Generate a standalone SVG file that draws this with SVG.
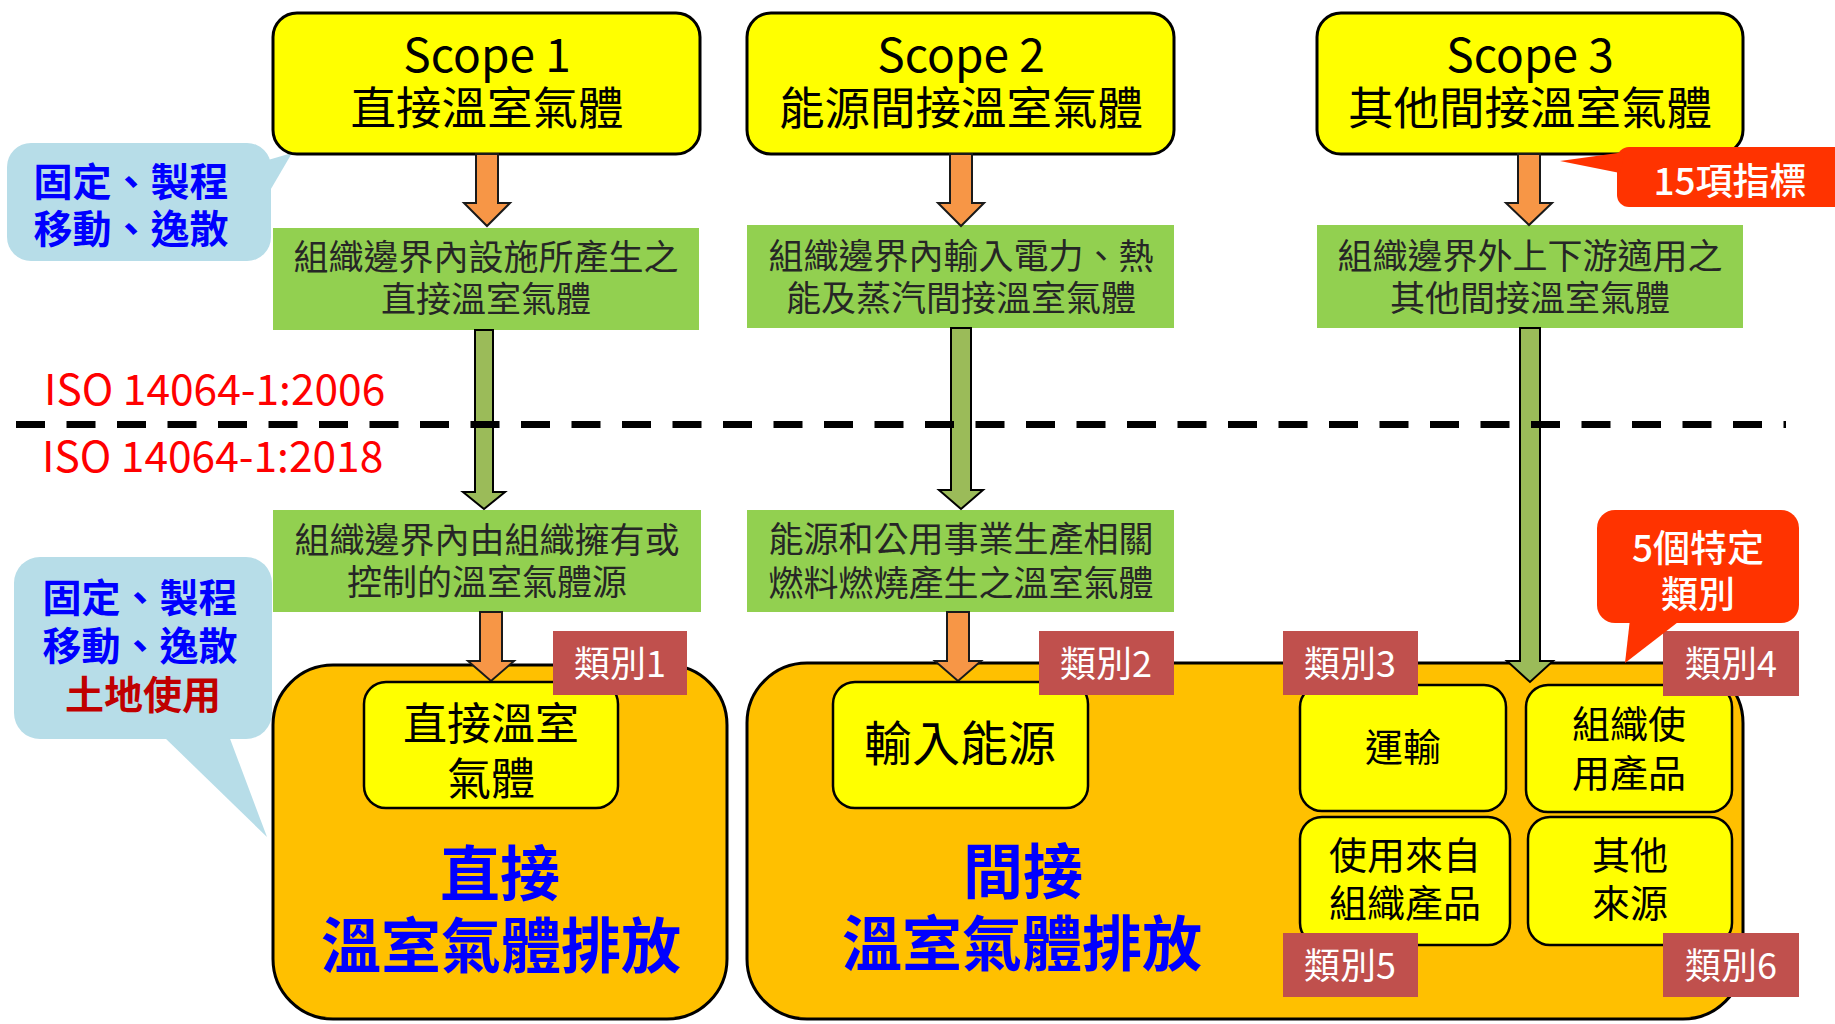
<svg xmlns="http://www.w3.org/2000/svg" width="1835" height="1024" viewBox="0 0 1835 1024">
<style>
text { font-family: "Noto Sans CJK TC", "Noto Sans", sans-serif; text-anchor: middle; }
.c { dominant-baseline: central; }
.scope { fill: #FFFF00; stroke: #000; stroke-width: 3; }
.green { fill: #92D050; }
.gt { font-size: 35px; fill: #262626; }
.st { font-size: 46px; fill: #000; }
.sc { font-size: 45.5px; fill: #000; }
.sc2 { font-size: 44px; fill: #000; }
.oa { fill: #F79646; stroke: #1a1a1a; stroke-width: 2; }
.ga { fill: #9BBB59; stroke: #000; stroke-width: 2; }
.big { fill: #FFC000; stroke: #000; stroke-width: 3; }
.inner { fill: #FFFF00; stroke: #000; stroke-width: 2.5; }
.it { font-size: 38px; fill: #000; }
.cat { fill: #C0504D; }
.ct { font-size: 36px; fill: #fff; }
.blue { fill: #B7DDE8; }
.bt { font-size: 39px; font-weight: bold; fill: #0000FF; }
.red { fill: #FF3300; }
.rt { font-size: 37px; font-weight: 500; fill: #fff; }
.iso { font-size: 42.5px; fill: #FF0000; text-anchor: start; }
.bb { font-size: 60px; font-weight: bold; fill: #0000FF; }
</style>

<!-- callouts -->
<g id="callout-top-left">
  <rect class="blue" x="7" y="143" width="264" height="118" rx="24"/>
  <polygon class="blue" points="268,160 292,153 268,194"/>
  <text class="bt c" x="131" y="179">固定、製程</text>
  <text class="bt c" x="131" y="226">移動、逸散</text>
</g>
<g id="callout-bottom-left">
  <rect class="blue" x="14" y="557" width="258" height="182" rx="26"/>
  <polygon class="blue" points="163,736 229,736 267,837"/>
  <text class="bt c" x="140" y="595">固定、製程</text>
  <text class="bt c" x="140" y="643">移動、逸散</text>
  <text class="bt c" x="143" y="692" style="fill:#C00000">土地使用</text>
</g>

<!-- scope boxes -->
<g id="scope1">
  <rect class="scope" x="273" y="13" width="427" height="141" rx="24"/>
  <text class="st" x="487" y="72">Scope 1</text>
  <text class="sc c" x="487" y="105">直接溫室氣體</text>
</g>
<g id="scope2">
  <rect class="scope" x="747" y="13" width="427" height="141" rx="24"/>
  <text class="st" x="961" y="72">Scope 2</text>
  <text class="sc c" x="961" y="105">能源間接溫室氣體</text>
</g>
<g id="scope3">
  <rect class="scope" x="1317" y="13" width="426" height="141" rx="24"/>
  <text class="st" x="1530" y="72">Scope 3</text>
  <text class="sc c" x="1530" y="105">其他間接溫室氣體</text>
</g>

<!-- green description boxes -->
<g id="desc1">
  <rect class="green" x="273" y="228" width="426" height="102"/>
  <text class="gt c" x="486" y="254">組織邊界內設施所產生之</text>
  <text class="gt c" x="486" y="296">直接溫室氣體</text>
</g>
<g id="desc2">
  <rect class="green" x="747" y="225" width="427" height="103"/>
  <text class="gt c" x="961" y="253">組織邊界內輸入電力、熱</text>
  <text class="gt c" x="961" y="295">能及蒸汽間接溫室氣體</text>
</g>
<g id="desc3">
  <rect class="green" x="1317" y="225" width="426" height="103"/>
  <text class="gt c" x="1530" y="253">組織邊界外上下游適用之</text>
  <text class="gt c" x="1530" y="295">其他間接溫室氣體</text>
</g>
<g id="desc4">
  <rect class="green" x="273" y="510" width="428" height="102"/>
  <text class="gt c" x="487" y="537">組織邊界內由組織擁有或</text>
  <text class="gt c" x="487" y="579">控制的溫室氣體源</text>
</g>
<g id="desc5">
  <rect class="green" x="747" y="510" width="427" height="102"/>
  <text class="gt c" x="961" y="536">能源和公用事業生產相關</text>
  <text class="gt c" x="961" y="580">燃料燃燒產生之溫室氣體</text>
</g>

<!-- big emission boxes -->
<g id="direct-box">
  <rect class="big" x="273" y="665" width="454" height="354" rx="60"/>
</g>
<g id="indirect-box">
  <rect class="big" x="747" y="663" width="996" height="356" rx="60"/>
</g>

<!-- connectors -->
<g id="connectors">
  <polygon class="oa" points="476,154 498,154 498,203 510,203 487,226 464,203 476,203"/>
  <polygon class="oa" points="950,154 972,154 972,203 984,203 961,226 938,203 950,203"/>
  <polygon class="oa" points="1518,154 1540,154 1540,203 1552,203 1529,225 1506,203 1518,203"/>
  <polygon class="ga" points="475,330 493,330 493,492 505,492 484,509 463,492 475,492"/>
  <polygon class="ga" points="951,328 971,328 971,490 983,490 961,509 939,490 951,490"/>
  <polygon class="ga" points="1520,328 1540,328 1540,661 1553,661 1530,682 1507,661 1520,661"/>
  <polygon class="oa" points="480,612 502,612 502,661 514,661 491,681 468,661 480,661"/>
  <polygon class="oa" points="947,612 969,612 969,661 981,661 958,681 935,661 947,661"/>
</g>

<!-- boundary line -->
<g id="boundary">
  <line x1="16" y1="424.5" x2="1786" y2="424.5" stroke="#000" stroke-width="7" stroke-dasharray="29 21.5"/>
  <text class="iso" x="44" y="405">ISO 14064-1:2006</text>
  <text class="iso" x="42" y="472">ISO 14064-1:2018</text>
</g>

<!-- inner boxes -->
<g id="direct-ghg">
  <rect class="inner" x="364" y="682" width="254" height="126" rx="22"/>
  <text class="sc2 c" x="491" y="721">直接溫室</text>
  <text class="sc2 c" x="491" y="776">氣體</text>
</g>
<g id="input-energy">
  <rect class="inner" x="833" y="682" width="255" height="126" rx="22"/>
  <text class="c" x="960" y="740" style="font-size:48px">輸入能源</text>
</g>
<g id="transport">
  <rect class="inner" x="1300" y="685" width="206" height="126" rx="22"/>
  <text class="it c" x="1403" y="744">運輸</text>
</g>
<g id="products-used">
  <rect class="inner" x="1526" y="685" width="206" height="127" rx="22"/>
  <text class="it c" x="1629" y="721">組織使</text>
  <text class="it c" x="1629" y="770">用產品</text>
</g>
<g id="org-products">
  <rect class="inner" x="1300" y="817" width="210" height="128" rx="22"/>
  <text class="it c" x="1405" y="852">使用來自</text>
  <text class="it c" x="1405" y="900">組織產品</text>
</g>
<g id="other-sources">
  <rect class="inner" x="1528" y="817" width="204" height="128" rx="22"/>
  <text class="it c" x="1630" y="852">其他</text>
  <text class="it c" x="1630" y="900">來源</text>
</g>

<!-- big labels -->
<g id="direct-label">
  <text class="bb c" x="500" y="869">直接</text>
  <text class="bb c" x="501" y="941">溫室氣體排放</text>
</g>
<g id="indirect-label">
  <text class="bb c" x="1023" y="867">間接</text>
  <text class="bb c" x="1022" y="939">溫室氣體排放</text>
</g>

<!-- category tags -->
<g id="cat1"><rect class="cat" x="553" y="631" width="134" height="64"/><text class="ct c" x="620" y="661">類別1</text></g>
<g id="cat2"><rect class="cat" x="1039" y="631" width="135" height="64"/><text class="ct c" x="1106" y="661">類別2</text></g>
<g id="cat3"><rect class="cat" x="1283" y="631" width="135" height="64"/><text class="ct c" x="1350" y="661">類別3</text></g>
<g id="cat4"><rect class="cat" x="1663" y="631" width="136" height="65"/><text class="ct c" x="1731" y="661">類別4</text></g>
<g id="cat5"><rect class="cat" x="1283" y="933" width="135" height="64"/><text class="ct c" x="1350" y="963">類別5</text></g>
<g id="cat6"><rect class="cat" x="1663" y="933" width="136" height="64"/><text class="ct c" x="1731" y="963">類別6</text></g>

<!-- red callouts -->
<g id="callout-15">
  <rect class="red" x="1617" y="147" width="240" height="60" rx="12"/>
  <polygon class="red" points="1560,161 1625,152 1620,173"/>
  <text class="rt c" x="1730" y="179">15項指標</text>
</g>
<g id="callout-5">
  <rect class="red" x="1597" y="510" width="202" height="113" rx="18"/>
  <polygon class="red" points="1630,619 1682,619 1625,663"/>
  <text class="rt c" x="1698" y="546">5個特定</text>
  <text class="rt c" x="1698" y="592">類別</text>
</g>
</svg>
